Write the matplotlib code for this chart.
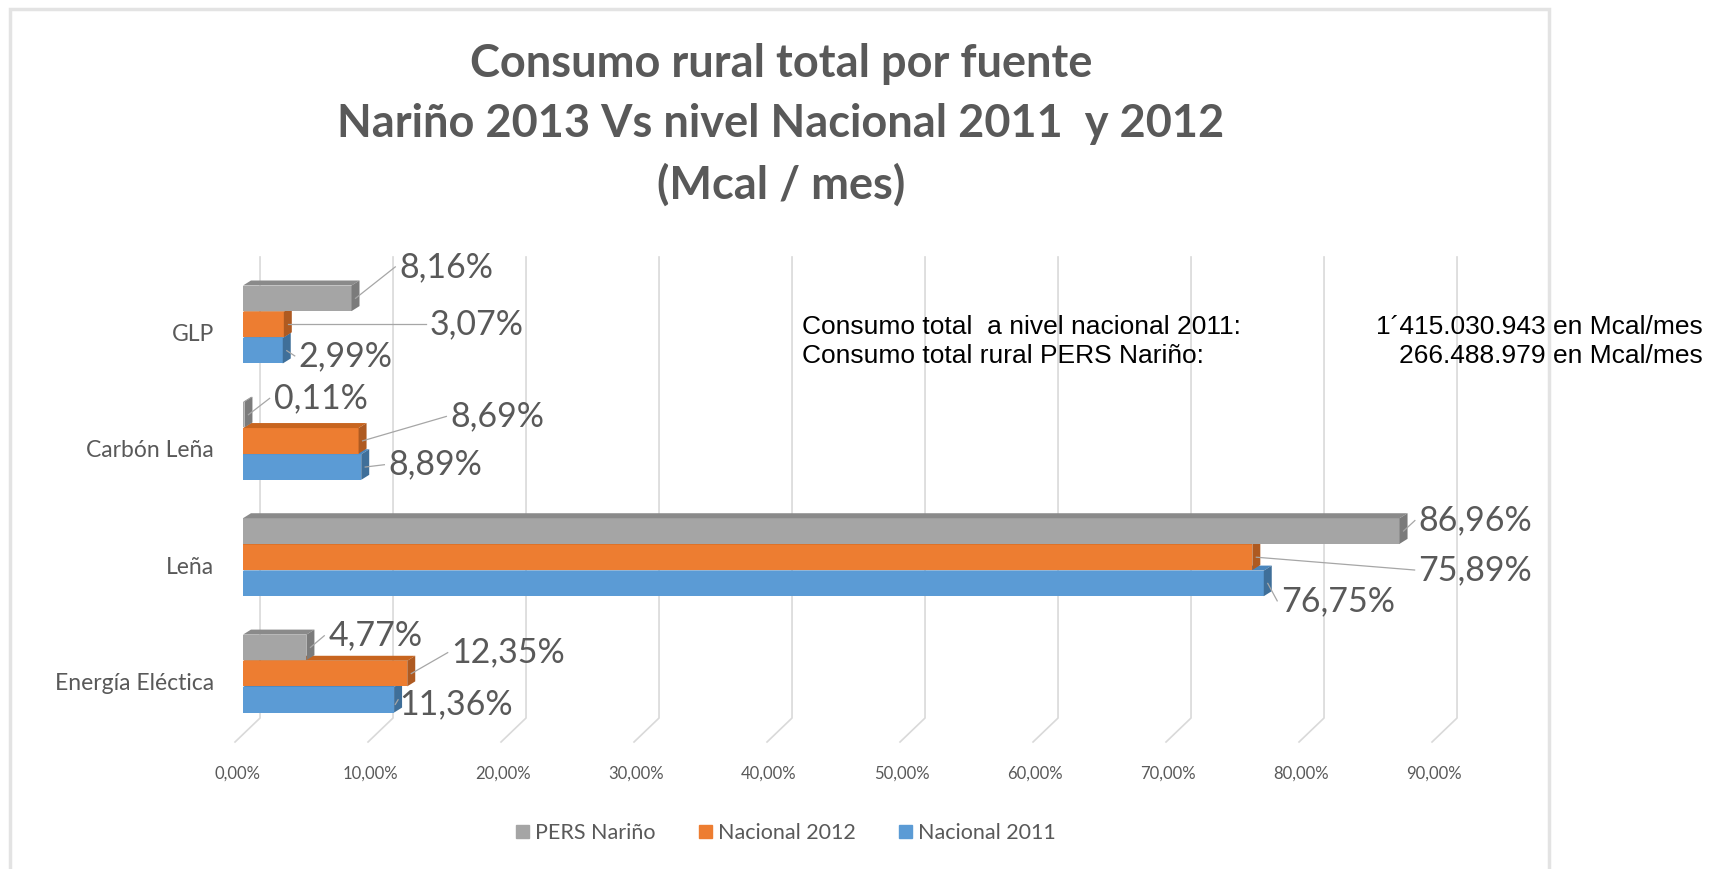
import matplotlib
matplotlib.use("Agg")
import matplotlib.pyplot as plt
from matplotlib.patches import Polygon, Rectangle
from matplotlib.transforms import ScaledTranslation

# data
categories = ["Energía Eléctica", "Leña", "Carbón Leña", "GLP"]
series_names = ["PERS Nariño", "Nacional 2012", "Nacional 2011"]
pers_narino = [4.77, 86.96, 0.11, 8.16]
nacional_2012 = [12.35, 75.89, 8.69, 3.07]
nacional_2011 = [11.36, 76.75, 8.89, 2.99]
x_ticks = [0, 10, 20, 30, 40, 50, 60, 70, 80, 90]
title_lines = ["Consumo rural total por fuente",
               "Nariño 2013 Vs nivel Nacional 2011  y 2012",
               "(Mcal / mes)"]
note_labels = ["Consumo total  a nivel nacional 2011:", "Consumo total rural PERS Nariño:"]
note_values = ["1´415.030.943 en Mcal/mes", "266.488.979 en Mcal/mes"]

# label placement (offset from bar end / bar centre), one row per series
label_dx = [[1.64, 1.45, 2.19, 3.59],
            [3.34, 12.5, 6.9, 10.98],
            [0.39, 1.31, 2.04, 1.2]]
label_dy = [[0.10, 0.09, 0.14, 0.27],
            [0.18, -0.11, 0.21, 0.0],
            [-0.04, -0.15, 0.02, -0.045]]

front = ["#a5a5a5", "#ed7d31", "#5b9bd5"]
top_c = ["#8a8a8a", "#c8651f", "#4a86bd"]
side_c = ["#7b7b7b", "#ae5a21", "#3f6f99"]
offsets = [0.225, 0.0, -0.225]
bar_h = 0.22
dep_x, dep_y = 0.6, 0.043
txt = "#595959"

fig = plt.figure(figsize=(17.12, 8.69), dpi=100)
ax = fig.add_axes([243 / 1712, 1 - 742 / 869, (1440 - 243) / 1712, (742 - 257) / 869])
ax.set_xlim(0, 90)
ax.set_ylim(-0.588, 3.58)

# back wall grid + floor
for t in x_ticks:
    ax.plot([t + 1.28, t + 1.28, t - 0.6], [3.58, -0.382, -0.588],
            color="#d9d9d9", lw=1.2, zorder=0, clip_on=False)

all_vals = [pers_narino, nacional_2012, nacional_2011]
for s in [2, 1, 0]:
    vals = all_vals[s]
    z = 4 - s
    ys = [i + offsets[s] for i in range(len(categories))]
    ax.barh(ys, vals, height=bar_h, color=front[s], zorder=z, label=series_names[s])
    for i, v in enumerate(vals):
        y0 = ys[i] - bar_h / 2
        y1 = ys[i] + bar_h / 2
        ax.add_patch(Polygon([(0, y1), (dep_x, y1 + dep_y), (v + dep_x, y1 + dep_y), (v, y1)],
                             closed=True, color=top_c[s], zorder=z, lw=0))
        ax.add_patch(Polygon([(v, y0), (v + dep_x, y0 + dep_y), (v + dep_x, y1 + dep_y), (v, y1)],
                             closed=True, color=side_c[s], zorder=z, lw=0))
        lx = v + label_dx[s][i]
        ly = ys[i] + label_dy[s][i]
        ax.plot([v + dep_x / 2, lx - 0.3], [ys[i], ly], color="#a6a6a6", lw=0.9, zorder=6)
        ax.text(lx, ly, f"{v:.2f}%".replace(".", ","), ha="left", va="center",
                fontsize=24.5, color=txt, family="Lato", zorder=7)

for sp in ax.spines.values():
    sp.set_visible(False)
ax.set_yticks(range(len(categories)))
ax.set_yticklabels(categories, fontsize=16.5, color=txt, family="Lato")
ax.set_xticks(x_ticks)
ax.set_xticklabels([f"{t:.2f}%".replace(".", ",") for t in x_ticks],
                   fontsize=12, color=txt, family="Lato")
ax.tick_params(axis="y", length=0, pad=21)
ax.tick_params(axis="x", length=0, pad=17)
shift = ScaledTranslation(-0.06, 0, fig.dpi_scale_trans)
for lab in ax.get_xticklabels():
    lab.set_transform(lab.get_transform() + shift)
yshift = ScaledTranslation(0, -0.08, fig.dpi_scale_trans)
for lab in ax.get_yticklabels():
    lab.set_transform(lab.get_transform() + yshift)

# title
for line, yy in zip(title_lines, [64, 124, 185]):
    fig.text(781 / 1712, 1 - yy / 869, line, ha="center", va="center", fontsize=32.5,
             fontweight="bold", color=txt, family="Lato")

# note
for k, yy in enumerate([327, 356]):
    fig.text(802 / 1712, 1 - yy / 869, note_labels[k], ha="left", va="center",
             fontsize=19, family="Liberation Sans", color="black")
    fig.text(1703 / 1712, 1 - yy / 869, note_values[k], ha="right", va="center",
             fontsize=19, family="Liberation Sans", color="black")

# legend (gray, orange, blue)
handles = [Rectangle((0, 0), 1, 1, color=c) for c in front]
leg = fig.legend(handles, series_names, loc="center", bbox_to_anchor=(786 / 1712, 1 - 833 / 869),
                 ncol=3, frameon=False, handlelength=0.6, handleheight=0.6,
                 handletextpad=0.3, columnspacing=2.0, prop={"family": "Lato", "size": 15.5})
for t in leg.get_texts():
    t.set_color(txt)

# chart frame
fig.add_artist(Rectangle((10 / 1712, -0.05), (1549 - 10) / 1712, 1.05 - 9 / 869,
                         transform=fig.transFigure, fill=False, edgecolor="#e3e3e3", lw=2.5))

fig.savefig("out.png", dpi=100)
